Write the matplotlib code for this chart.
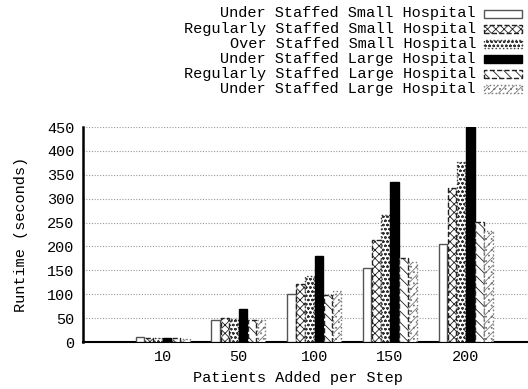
import matplotlib
matplotlib.use("Agg")
import matplotlib.pyplot as plt
from matplotlib.patches import Rectangle
import numpy as np

plt.rcParams['font.family'] = ['Liberation Mono', 'DejaVu Sans Mono']
plt.rcParams['hatch.linewidth'] = 0.6

categories = ["10", "50", "100", "150", "200"]
series_names = [
    "Under Staffed Small Hospital",
    "Regularly Staffed Small Hospital",
    "Over Staffed Small Hospital",
    "Under Staffed Large Hospital",
    "Regularly Staffed Large Hospital",
    "Under Staffed Large Hospital",
]
s1 = [11, 46, 100, 154, 206]
s2 = [9, 50, 122, 213, 322]
s3 = [9, 48, 139, 266, 377]
s4 = [9, 69, 181, 334, 450]
s5 = [9, 47, 99, 176, 251]
s6 = [7, 46, 107, 167, 232]
values = [s1, s2, s3, s4, s5, s6]

styles = [
    dict(facecolor='white', edgecolor='#555555', hatch=None, linestyle='-'),
    dict(facecolor='white', edgecolor='#222222', hatch='xxxx', linestyle='--'),
    dict(facecolor='white', edgecolor='#333333', hatch='oooo', linestyle=':'),
    dict(facecolor='black', edgecolor='black', hatch=None, linestyle='-'),
    dict(facecolor='white', edgecolor='#222222', hatch='\\\\\\', linestyle='--'),
    dict(facecolor='white', edgecolor='#777777', hatch='////...', linestyle=':'),
]

fig = plt.figure(figsize=(5.28, 3.89), dpi=100)
ax = fig.add_axes([0.1566, 0.1208, 0.8434, 0.5527])

x = np.arange(len(categories))
bw = 0.12
n = len(values)
for i, (vals, st) in enumerate(zip(values, styles)):
    off = (i - (n - 1) / 2) * bw
    ax.bar(x + off, vals, width=bw * 0.92, facecolor=st['facecolor'],
           edgecolor=st['edgecolor'], hatch=st['hatch'], linewidth=1.0,
           linestyle=st['linestyle'], zorder=3)

ax.set_xlim(-1.054, 4.82)
ax.set_ylim(0, 450)
ax.set_yticks(np.arange(0, 451, 50))
ax.set_xticks(x)
ax.set_xticklabels(categories)
ax.tick_params(length=0, labelsize=11, pad=6)
ax.yaxis.grid(True, linestyle=(0, (1, 1.5)), color='#999999', linewidth=0.8, zorder=0)
for s in ['top', 'right']:
    ax.spines[s].set_visible(False)
ax.spines['left'].set_linewidth(1.8)
ax.spines['bottom'].set_linewidth(1.5)
ax.set_xlabel("Patients Added per Step", fontsize=11)
ax.set_ylabel("Runtime (seconds)", fontsize=11)
ax.yaxis.set_label_coords(-0.123, 0.5)
ax.xaxis.set_label_coords(0.5 - 7 / 445, -0.135)

# legend (right-aligned text, sample box to the right)
row_h = 15.2 / 389
y0 = 1 - 13.5 / 389
for i, (name, st) in enumerate(zip(series_names, styles)):
    yc = y0 - i * row_h
    fig.text(476 / 528, yc, name, ha='right', va='center', fontsize=11)
    r = Rectangle((484 / 528, yc - 4 / 389), 38 / 528, 8 / 389,
                  transform=fig.transFigure, facecolor=st['facecolor'],
                  edgecolor=st['edgecolor'], hatch=st['hatch'],
                  linestyle=st['linestyle'], linewidth=1.0)
    fig.add_artist(r)

fig.savefig("out.png", dpi=100)
